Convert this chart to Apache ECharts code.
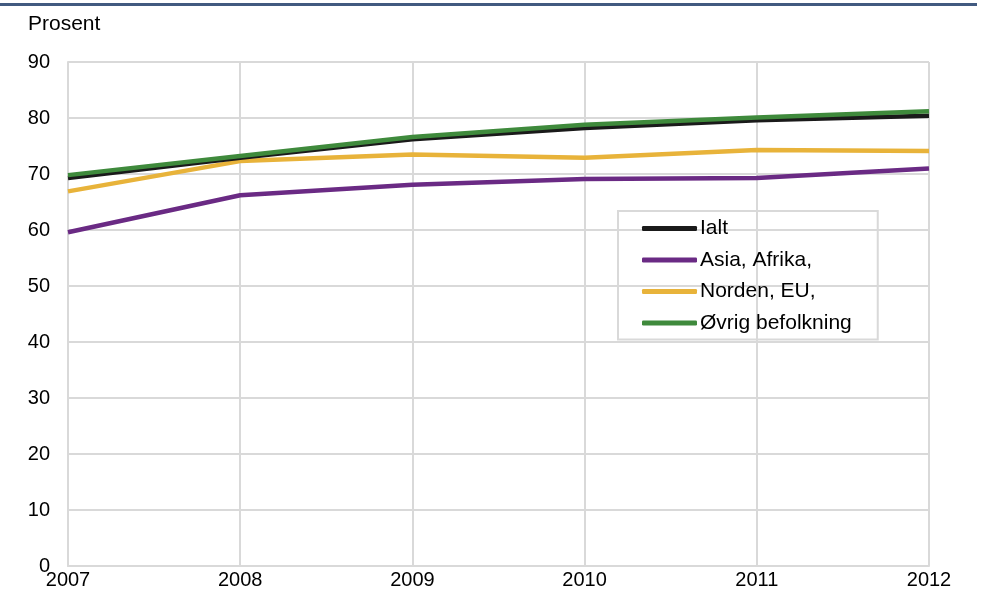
<!DOCTYPE html>
<html><head><meta charset="utf-8">
<script src="https://cdn.jsdelivr.net/npm/echarts@6/dist/echarts.min.js"></script>
<style>html,body{margin:0;padding:0;background:#fff}#c{width:987px;height:599px}</style>
</head><body><div id="c"></div>
<script>
const years = ['2007','2008','2009','2010','2011','2012'];
const ialt = [69.3, 72.9, 76.2, 78.2, 79.6, 80.4];
const asiaAfrika = [59.6, 66.2, 68.1, 69.1, 69.3, 71.0];
const nordenEU = [66.9, 72.3, 73.5, 72.9, 74.3, 74.1];
const ovrig = [69.8, 73.2, 76.6, 78.8, 80.1, 81.2];
const yTicks = {min: 0, max: 90, interval: 10};
const font = 'Liberation Sans, Arial, sans-serif';
const fs = 20;
const lfs = 21;
const chart = echarts.init(document.getElementById('c'));
function s(name, data, color, z) {
  return {name, type: 'line', data, symbol: 'none', z,
    lineStyle: {color, width: 4.5}, itemStyle: {color}};
}
chart.setOption({
  animation: false,
  graphic: [
    {type: 'rect', shape: {x: 0, y: 3, width: 977, height: 3}, style: {fill: '#415a80'}},
    {type: 'text', left: 28, top: 14, style: {text: 'Prosent', font: lfs + 'px ' + font, fill: '#000'}}
  ],
  grid: {left: 68, right: 58, top: 62, bottom: 33},
  xAxis: {type: 'category', data: years, boundaryGap: false,
    axisLine: {lineStyle: {color: '#d9d9d9', width: 2}},
    axisTick: {show: false},
    axisLabel: {color: '#000', fontSize: fs, fontFamily: font, margin: 4},
    splitLine: {show: true, lineStyle: {color: '#d9d9d9', width: 2}}},
  yAxis: {type: 'value', min: yTicks.min, max: yTicks.max, interval: yTicks.interval,
    axisLine: {show: true, lineStyle: {color: '#d9d9d9', width: 2}},
    axisTick: {show: false},
    axisLabel: {color: '#000', fontSize: fs, fontFamily: font, margin: 18},
    splitLine: {lineStyle: {color: '#d9d9d9', width: 2}}},
  legend: {orient: 'vertical', left: 618, top: 211,
    padding: [7, 26, 6, 24], borderColor: '#d9d9d9', borderWidth: 2,
    itemWidth: 55, itemHeight: 5, itemGap: 10.5, icon: 'roundRect',
    textStyle: {color: '#000', fontSize: lfs, fontFamily: font, lineHeight: 21, padding: [0, 0, 0, -2]},
    data: ['Ialt', 'Asia, Afrika,', 'Norden, EU,', 'Øvrig befolkning']},
  series: [
    s('Asia, Afrika,', asiaAfrika, '#6a2a84', 2),
    s('Norden, EU,', nordenEU, '#e8b33a', 3),
    s('Ialt', ialt, '#1a1a1a', 4),
    s('Øvrig befolkning', ovrig, '#3f8a3c', 5)
  ]
});
</script></body></html>
